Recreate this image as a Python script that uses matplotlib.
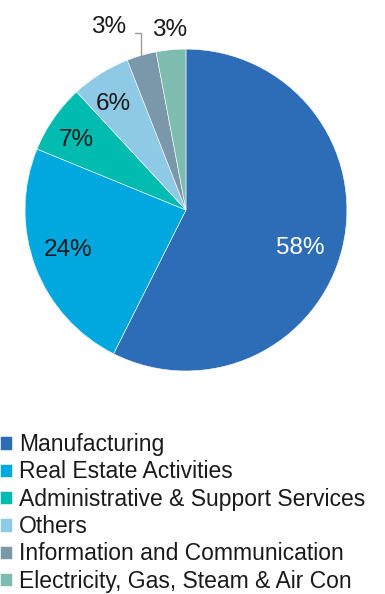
import numpy as np
import matplotlib
matplotlib.use("Agg")
import matplotlib.pyplot as plt

plt.rcParams['font.family'] = ['Liberation Sans', 'DejaVu Sans']

# sector shares (%)
sectors = ["Manufacturing", "Real Estate Activities", "Administrative & Support Services",
           "Others", "Information and Communication", "Electricity, Gas, Steam & Air Con"]
shares = [58, 24, 7, 6, 3, 3]
colors = ["#2d6db8", "#00a8df", "#00bcb0", "#8ecae6", "#7b98ab", "#7dbcae"]
text_colors = ["white", "#1a1a1a", "#1a1a1a", "#1a1a1a", "#1a1a1a", "#1a1a1a"]

fig = plt.figure(figsize=(3.85, 5.94), dpi=100)
ax = fig.add_axes([0.065, 0.3754, 0.836, 0.542])

wedges, _ = ax.pie(shares, colors=colors, startangle=90, counterclock=False,
                   wedgeprops=dict(edgecolor="white", linewidth=0.4))
ax.set_xlim(-1, 1)
ax.set_ylim(-1, 1)
ax.set_aspect("equal")

# inside labels for big slices (radius, angle nudge)
label_r = [0.75, 0.78, 0.80, 0.79]
label_da = [-6, -1, 3, 3]
for w, v, tc, r, da in zip(wedges[:4], shares[:4], text_colors[:4], label_r, label_da):
    mid = np.deg2rad((w.theta1 + w.theta2) / 2 + da)
    ax.text(r * np.cos(mid), r * np.sin(mid) + 0.015, f"{v}%", color=tc,
            ha="center", va="center", fontsize=17.5)

# small slices labelled outside
w = wedges[4]
mid = np.deg2rad((w.theta1 + w.theta2) / 2)
ax.annotate(f"{shares[4]}%", xy=(np.cos(mid), np.sin(mid)), xytext=(-0.48, 1.14),
            ha="center", va="center", fontsize=17.5, color="#1a1a1a",
            annotation_clip=False,
            arrowprops=dict(arrowstyle="-", color="#9a9a9a", lw=1,
                            shrinkA=4, shrinkB=0, relpos=(1.0, 0.2),
                            connectionstyle="angle,angleA=0,angleB=90,rad=0"))
ax.text(-0.10, 1.12, f"{shares[5]}%", ha="center", va="center",
        fontsize=17.5, color="#1a1a1a", clip_on=False)

fig.legend(wedges, sectors, loc="upper left", bbox_to_anchor=(0.0, 1 - 433 / 594),
           frameon=False, fontsize=16.5, handlelength=0.52, handleheight=0.52,
           handletextpad=0.3, labelspacing=0.19, borderpad=0, borderaxespad=0,
           labelcolor="#1a1a1a")

fig.savefig("out.png", dpi=100)
